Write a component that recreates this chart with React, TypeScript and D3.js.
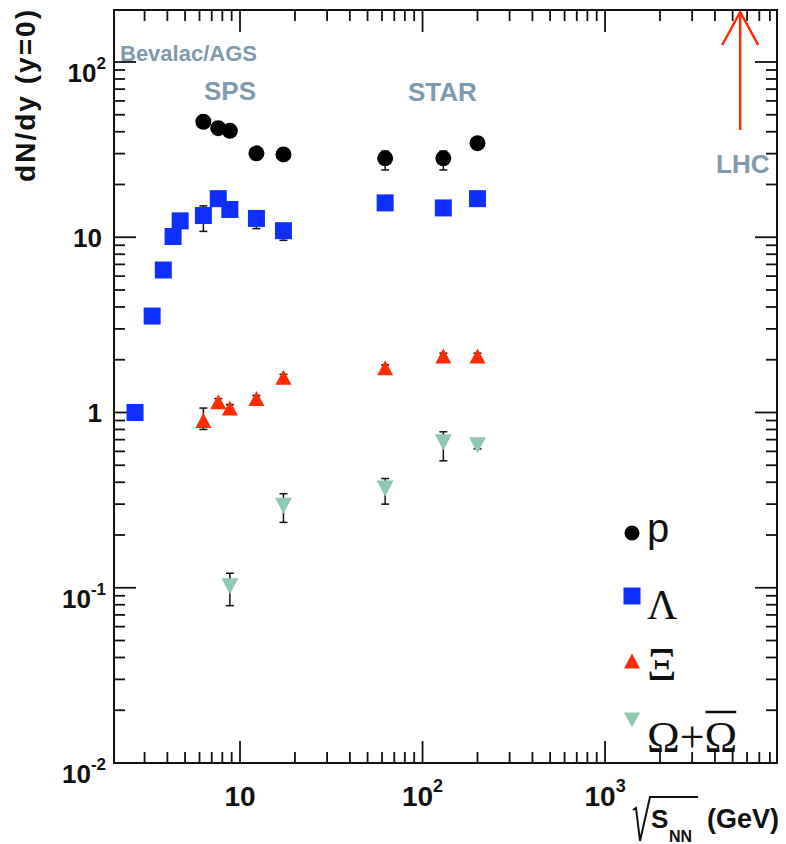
import { useEffect, useRef } from 'react'
import * as d3 from 'd3'

// sqrt(s_NN) in GeV and dN/dy at mid-rapidity
const protonE = [6.3, 7.6, 8.8, 12.3, 17.3, 62.4, 130, 200]
const protonY = [45.6, 41.9, 40.5, 30.1, 29.7, 28.2, 28.2, 34.4]
const protonLo = [2.5, 2, 2, 1.8, 1.8, 4.0, 4.0, 2.5]
const protonHi = [2.5, 2, 2, 1.8, 1.8, 2.8, 2.8, 2.5]

const lambdaE = [2.66, 3.3, 3.8, 4.3, 4.7, 6.3, 7.6, 8.8, 12.3, 17.3, 62.4, 130, 200]
const lambdaY = [1.0, 3.55, 6.5, 10.1, 12.4, 13.3, 16.6, 14.4, 12.8, 10.9, 15.7, 14.7, 16.6]
const lambdaLo = [0.05, 0.2, 0.3, 0.5, 0.6, 2.5, 1, 1, 1.6, 1.3, 1, 1, 1]
const lambdaHi = [0.05, 0.2, 0.3, 0.5, 0.6, 1.8, 1, 1, 1, 1, 1, 1, 1]

const xiE = [6.3, 7.6, 8.8, 12.3, 17.3, 62.4, 130, 200]
const xiY = [0.9, 1.15, 1.06, 1.2, 1.59, 1.8, 2.1, 2.1]
const xiLo = [0.1, 0.05, 0.05, 0.05, 0.06, 0.07, 0.08, 0.08]
const xiHi = [0.16, 0.05, 0.05, 0.05, 0.06, 0.07, 0.08, 0.08]

const omegaE = [8.8, 17.3, 62.4, 130, 200]
const omegaY = [0.102, 0.294, 0.368, 0.676, 0.65]
const omegaLo = [0.023, 0.058, 0.068, 0.146, 0.03]
const omegaHi = [0.019, 0.05, 0.052, 0.1, 0.03]

const lhcEnergy = 5500

const yTickVals = [0.01, 0.1, 1, 10, 100]
const yTickBase = ['10', '10', '1', '10', '10']
const yTickExp = ['-2', '-1', '', '', '2']
const xTickVals = [10, 100, 1000]
const xTickBase = ['10', '10', '10']
const xTickExp = ['', '2', '3']

const W = 786
const H = 844
const L = 114, R = 777, T = 10, B = 763
const SANS = 'Liberation Sans, Arial, Helvetica, sans-serif'
const SERIF = 'Liberation Serif, DejaVu Serif, Times New Roman, serif'
const GREY = '#7f9aab'
const BLUE = '#0f2fff'
const RED = '#ff2a00'
const TEAL = '#8fc9b1'

function tri(cx: number, cy: number, w: number, h: number, up: boolean) {
  const s = up ? 1 : -1
  return `M${cx - w / 2},${cy + (s * h) / 2}L${cx + w / 2},${cy + (s * h) / 2}L${cx},${cy - (s * h) / 2}Z`
}

export default function App() {
  const svgRef = useRef<SVGSVGElement>(null)

  useEffect(() => {
    if (!svgRef.current) return
    const svg = d3.select(svgRef.current)
    svg.selectAll('*').remove()

    const x = d3.scaleLog().domain([2.04, 8750]).range([L, R])
    const y = d3.scaleLog().domain([0.01, 198]).range([B, T])
    const isMajor = (v: number) => Math.abs(Math.log10(v) - Math.round(Math.log10(v))) < 1e-9

    // ticks on all four sides
    const xt: number[] = []
    for (let e = 0; e <= 3; e++) for (let k = 1; k <= 9; k++) {
      const v = k * Math.pow(10, e)
      if (v >= 2.04 && v <= 8750) xt.push(v)
    }
    const yt: number[] = []
    for (let e = -2; e <= 2; e++) for (let k = 1; k <= 9; k++) {
      const v = k * Math.pow(10, e)
      if (v >= 0.01 && v <= 198) yt.push(v)
    }
    const ax = svg.append('g').attr('stroke', '#111').attr('stroke-width', 1.8)
    xt.forEach(v => {
      const len = isMajor(v) ? 22 : 11
      ax.append('line').attr('x1', x(v)).attr('x2', x(v)).attr('y1', B).attr('y2', B - len)
      ax.append('line').attr('x1', x(v)).attr('x2', x(v)).attr('y1', T).attr('y2', T + len)
    })
    yt.forEach(v => {
      const len = isMajor(v) ? 22 : 11
      ax.append('line').attr('x1', L).attr('x2', L + len).attr('y1', y(v)).attr('y2', y(v))
      ax.append('line').attr('x1', R).attr('x2', R - len).attr('y1', y(v)).attr('y2', y(v))
    })
    svg.append('rect').attr('x', L).attr('y', T).attr('width', R - L).attr('height', B - T)
      .attr('fill', 'none').attr('stroke', '#111').attr('stroke-width', 2)

    // y tick labels
    yTickVals.forEach((v, i) => {
      const pow = yTickExp[i] !== ''
      const t = svg.append('text').attr('font-family', SANS).attr('font-weight', 'bold')
        .attr('text-anchor', 'end').attr('x', pow ? 106 : 102)
        .attr('y', y(v) + (pow ? 20 : 10)).attr('font-size', 26).attr('fill', '#111')
      t.append('tspan').text(yTickBase[i])
      if (pow) t.append('tspan').attr('font-size', 17).attr('dy', -13).text(yTickExp[i])
    })
    // x tick labels
    xTickVals.forEach((v, i) => {
      const t = svg.append('text').attr('font-family', SANS).attr('font-weight', 'bold')
        .attr('text-anchor', 'middle').attr('x', x(v)).attr('y', 806)
        .attr('font-size', 28).attr('fill', '#111')
      t.append('tspan').text(xTickBase[i])
      if (xTickExp[i]) t.append('tspan').attr('font-size', 18).attr('dy', -14).text(xTickExp[i])
    })

    // axis titles
    svg.append('text').attr('transform', 'translate(35,96) rotate(-90)')
      .attr('text-anchor', 'middle').attr('font-family', SANS).attr('font-weight', 'bold')
      .attr('font-size', 28).attr('textLength', 172).attr('lengthAdjust', 'spacing')
      .attr('fill', '#111').text('dN/dy (y=0)')
    svg.append('path').attr('d', 'M633,810L636,808L640,841L650,797L698,797')
      .attr('fill', 'none').attr('stroke', '#111').attr('stroke-width', 2)
    svg.append('text').attr('x', 651).attr('y', 828).attr('font-family', SANS).attr('font-weight', 'bold')
      .attr('font-size', 26).attr('fill', '#111').text('S')
    svg.append('text').attr('x', 669).attr('y', 842).attr('font-family', SANS).attr('font-weight', 'bold')
      .attr('font-size', 16).attr('fill', '#111').text('NN')
    svg.append('text').attr('x', 707).attr('y', 828).attr('font-family', SANS).attr('font-weight', 'bold')
      .attr('font-size', 27).attr('fill', '#111').text('(GeV)')

    // experiment labels
    const lab = (tx: string, lx: number, ly: number, fs: number) =>
      svg.append('text').attr('x', lx).attr('y', ly).attr('font-family', SANS).attr('font-weight', 'bold')
        .attr('font-size', fs).attr('fill', GREY).text(tx)
    lab('Bevalac/AGS', 120, 61, 22)
    lab('SPS', 204, 100, 26)
    lab('STAR', 408, 101, 26)
    lab('LHC', 716, 173, 26)

    // LHC arrow
    const ag = svg.append('g').attr('stroke', RED).attr('stroke-width', 2.5).attr('fill', 'none')
    ag.append('line').attr('x1', x(lhcEnergy)).attr('x2', x(lhcEnergy)).attr('y1', 130).attr('y2', 12)
    ag.append('path').attr('d', `M${x(lhcEnergy) - 18},45L${x(lhcEnergy)},12L${x(lhcEnergy) + 18},45`)

    // error bars
    const errs = (es: number[], vs: number[], lo: number[], hi: number[]) => {
      const g = svg.append('g').attr('stroke', '#111').attr('stroke-width', 1.5)
      es.forEach((e, i) => {
        const cx = x(e), y1 = y(vs[i] - lo[i]), y2 = y(vs[i] + hi[i])
        g.append('line').attr('x1', cx).attr('x2', cx).attr('y1', y1).attr('y2', y2)
        g.append('line').attr('x1', cx - 4).attr('x2', cx + 4).attr('y1', y1).attr('y2', y1)
        g.append('line').attr('x1', cx - 4).attr('x2', cx + 4).attr('y1', y2).attr('y2', y2)
      })
    }
    errs(protonE, protonY, protonLo, protonHi)
    errs(lambdaE, lambdaY, lambdaLo, lambdaHi)
    errs(xiE, xiY, xiLo, xiHi)
    errs(omegaE, omegaY, omegaLo, omegaHi)

    // markers
    svg.append('g').selectAll('circle').data(protonE).enter().append('circle')
      .attr('cx', d => x(d)).attr('cy', (_, i) => y(protonY[i])).attr('r', 8).attr('fill', '#000')
    svg.append('g').selectAll('rect').data(lambdaE).enter().append('rect')
      .attr('x', d => x(d) - 8.5).attr('y', (_, i) => y(lambdaY[i]) - 8.5)
      .attr('width', 17).attr('height', 17).attr('fill', BLUE)
    svg.append('g').selectAll('path').data(xiE).enter().append('path')
      .attr('d', (d, i) => tri(x(d), y(xiY[i]), 16, 15, true)).attr('fill', RED)
    svg.append('g').selectAll('path').data(omegaE).enter().append('path')
      .attr('d', (d, i) => tri(x(d), y(omegaY[i]), 17, 16, false)).attr('fill', TEAL)

    // legend
    svg.append('circle').attr('cx', 632).attr('cy', 533).attr('r', 7.5).attr('fill', '#000')
    svg.append('text').attr('x', 647).attr('y', 542).attr('font-family', SANS)
      .attr('font-size', 40).attr('fill', '#111').text('p')
    svg.append('rect').attr('x', 623.5).attr('y', 587.5).attr('width', 17).attr('height', 17).attr('fill', BLUE)
    svg.append('text').attr('x', 647).attr('y', 619).attr('font-family', SERIF)
      .attr('font-size', 42).attr('fill', '#111').text('Λ')
    svg.append('path').attr('d', tri(632, 661, 16, 15, true)).attr('fill', RED)
    svg.append('text').attr('x', 647).attr('y', 680).attr('font-family', SERIF)
      .attr('font-size', 46).attr('fill', '#111').text('Ξ')
    svg.append('path').attr('d', tri(632, 720, 16, 15, false)).attr('fill', TEAL)
    const om = svg.append('text').attr('x', 647).attr('y', 752).attr('font-family', SERIF)
      .attr('font-size', 44).attr('fill', '#111').text('Ω+Ω')
    const node = om.node() as SVGTextElement
    const sx = node.getStartPositionOfChar(2).x
    const sw = node.getSubStringLength(2, 1)
    svg.append('line').attr('x1', sx + 1).attr('x2', sx + sw - 1).attr('y1', 712).attr('y2', 712)
      .attr('stroke', '#111').attr('stroke-width', 2.5)
  }, [])

  return (
    <svg ref={svgRef} width={W} height={H}
      style={{ position: 'absolute', left: 0, top: 0, background: '#fff' }} />
  )
}
